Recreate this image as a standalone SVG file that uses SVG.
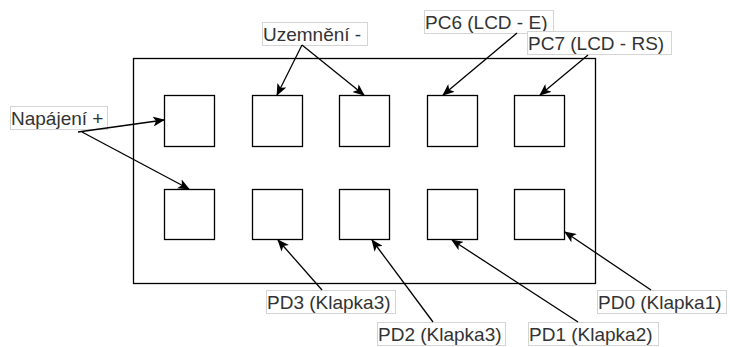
<svg xmlns="http://www.w3.org/2000/svg" width="730" height="347" viewBox="0 0 730 347">
  <style>
    .box { fill: #ffffff; stroke: #000000; stroke-width: 1.3; }
    .lbl rect { fill: #ffffff; stroke: #d4d4d4; stroke-width: 1; }
    .lbl text { font-family: "Liberation Sans", Arial, sans-serif; font-size: 19px; fill: #333333; }
    .conn line { stroke: #000000; stroke-width: 1.3; fill: none; marker-end: url(#arrow); }
  </style>
  <defs>
    <marker id="arrow" viewBox="0 0 12 10" refX="11" refY="5" markerWidth="12" markerHeight="10" markerUnits="userSpaceOnUse" orient="auto">
      <path d="M0,0 L12,5 L0,10 L3,5 z" fill="#000000"/>
    </marker>
  </defs>

  <rect width="730" height="347" fill="#ffffff"/>

  <!-- board outline -->
  <g id="board">
    <rect class="box" x="133.5" y="58.5" width="462" height="225"/>
  </g>

  <!-- pads, top row -->
  <g id="pad-t1"><rect class="box" x="164.5" y="95.5" width="50" height="51"/></g>
  <g id="pad-t2"><rect class="box" x="252.5" y="95.5" width="50" height="51"/></g>
  <g id="pad-t3"><rect class="box" x="339.5" y="95.5" width="50" height="51"/></g>
  <g id="pad-t4"><rect class="box" x="427.5" y="95.5" width="50" height="51"/></g>
  <g id="pad-t5"><rect class="box" x="514.5" y="95.5" width="50" height="51"/></g>

  <!-- pads, bottom row -->
  <g id="pad-b1"><rect class="box" x="164.5" y="189.5" width="50" height="50"/></g>
  <g id="pad-b2"><rect class="box" x="252.5" y="189.5" width="50" height="50"/></g>
  <g id="pad-b3"><rect class="box" x="339.5" y="189.5" width="50" height="50"/></g>
  <g id="pad-b4"><rect class="box" x="427.5" y="189.5" width="50" height="50"/></g>
  <g id="pad-b5"><rect class="box" x="514.5" y="189.5" width="50" height="50"/></g>

  <!-- labels -->
  <g id="lbl-napajeni" class="lbl">
    <rect x="10.5" y="106.5" width="97" height="23"/>
    <text x="11" y="124.5">Napájení +</text>
  </g>
  <g id="lbl-uzemneni" class="lbl">
    <rect x="262.5" y="22.5" width="105" height="23"/>
    <text x="263" y="40.5">Uzemnění -</text>
  </g>
  <g id="lbl-pc6" class="lbl">
    <rect x="424.5" y="10.5" width="129" height="23"/>
    <text x="425" y="28.5">PC6 (LCD - E)</text>
  </g>
  <g id="lbl-pc7" class="lbl">
    <rect x="527.5" y="31.5" width="144" height="23"/>
    <text x="528" y="49.5">PC7 (LCD - RS)</text>
  </g>
  <g id="lbl-pd3" class="lbl">
    <rect x="266.5" y="290.5" width="129" height="23"/>
    <text x="267" y="308.5">PD3 (Klapka3)</text>
  </g>
  <g id="lbl-pd2" class="lbl">
    <rect x="377.5" y="322.5" width="128" height="23"/>
    <text x="378" y="340.5">PD2 (Klapka3)</text>
  </g>
  <g id="lbl-pd1" class="lbl">
    <rect x="528.5" y="322.5" width="130" height="23"/>
    <text x="529" y="340.5">PD1 (Klapka2)</text>
  </g>
  <g id="lbl-pd0" class="lbl">
    <rect x="597.5" y="290.5" width="129" height="23"/>
    <text x="598" y="308.5">PD0 (Klapka1)</text>
  </g>

  <!-- connectors -->
  <g id="connectors" class="conn">
    <line x1="78" y1="132" x2="164" y2="120"/>
    <line x1="82" y1="132" x2="189" y2="189"/>
    <line x1="302" y1="45" x2="277" y2="95"/>
    <line x1="302" y1="45" x2="364" y2="95"/>
    <line x1="517" y1="33" x2="443" y2="95"/>
    <line x1="588" y1="55" x2="540" y2="95"/>
    <line x1="322" y1="290" x2="278" y2="240"/>
    <line x1="433" y1="322" x2="372" y2="240"/>
    <line x1="578" y1="322" x2="452" y2="240"/>
    <line x1="651" y1="290" x2="565" y2="232"/>
  </g>
</svg>
